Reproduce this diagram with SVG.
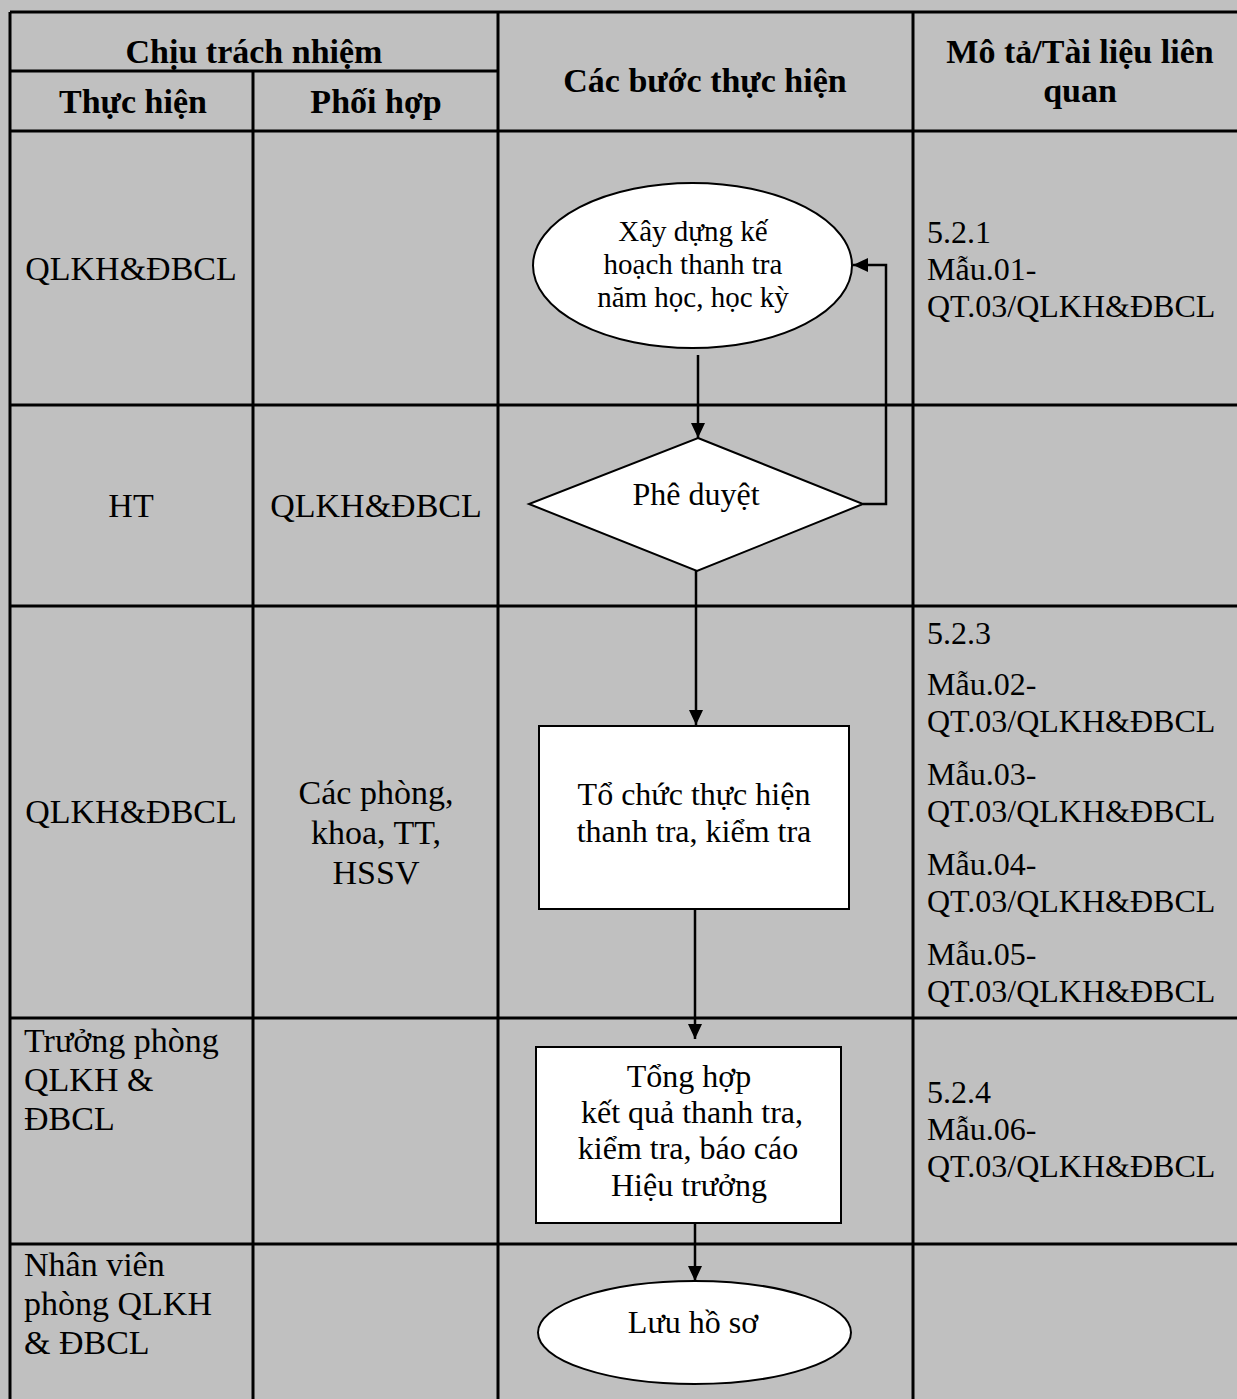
<svg xmlns="http://www.w3.org/2000/svg" width="1237" height="1399" viewBox="0 0 1237 1399">
<style>
.grid{stroke:#000;stroke-width:3;fill:none}
.hdr{font-family:"Liberation Serif","Times New Roman",serif;font-weight:bold;font-size:34px;fill:#000;text-anchor:middle}
.cell{font-family:"Liberation Serif","Times New Roman",serif;font-size:34px;fill:#000}
.ref{font-family:"Liberation Serif","Times New Roman",serif;font-size:32px;fill:#000}
.flow{font-family:"Liberation Serif","Times New Roman",serif;font-size:32px;fill:#000;text-anchor:middle}
.shape{fill:#fff;stroke:#000;stroke-width:2}
.conn{stroke:#000;stroke-width:2.5;fill:none}
.mid{text-anchor:middle}
</style>
<defs>
<marker id="arr" markerUnits="userSpaceOnUse" markerWidth="16" markerHeight="16" viewBox="0 0 16 16" refX="15" refY="8" orient="auto">
<path d="M0,1 L15,8 L0,15 Z" fill="#000"/>
</marker>
</defs>
<rect x="0" y="0" width="1237" height="1399" fill="#c0c0c0"/>
<g id="table">
<line class="grid" x1="10" y1="12" x2="1237" y2="12"/>
<line class="grid" x1="10" y1="71" x2="498" y2="71"/>
<line class="grid" x1="10" y1="131" x2="1237" y2="131"/>
<line class="grid" x1="10" y1="405" x2="1237" y2="405"/>
<line class="grid" x1="10" y1="606" x2="1237" y2="606"/>
<line class="grid" x1="10" y1="1018" x2="1237" y2="1018"/>
<line class="grid" x1="10" y1="1244" x2="1237" y2="1244"/>
<line class="grid" x1="10" y1="12" x2="10" y2="1399"/>
<line class="grid" x1="253" y1="71" x2="253" y2="1399"/>
<line class="grid" x1="498" y1="12" x2="498" y2="1399"/>
<line class="grid" x1="913" y1="12" x2="913" y2="1399"/>
</g>
<g id="headers">
<text class="hdr" x="254" y="63">Chịu trách nhiệm</text>
<text class="hdr" x="133" y="113">Thực hiện</text>
<text class="hdr" x="376" y="113">Phối hợp</text>
<text class="hdr" x="705" y="92">Các bước thực hiện</text>
<text class="hdr" x="1080" y="63">Mô tả/Tài liệu liên</text>
<text class="hdr" x="1080" y="102">quan</text>
</g>
<g id="responsible">
<text class="cell mid" x="131" y="280">QLKH&amp;ĐBCL</text>
<text class="cell mid" x="131" y="517">HT</text>
<text class="cell mid" x="376" y="517">QLKH&amp;ĐBCL</text>
<text class="cell mid" x="131" y="823">QLKH&amp;ĐBCL</text>
<text class="cell mid" x="376" y="804">Các phòng,</text>
<text class="cell mid" x="376" y="844">khoa, TT,</text>
<text class="cell mid" x="376" y="884">HSSV</text>
<text class="cell" x="24" y="1052">Trưởng phòng</text>
<text class="cell" x="24" y="1091">QLKH &amp;</text>
<text class="cell" x="24" y="1130">ĐBCL</text>
<text class="cell" x="24" y="1276">Nhân viên</text>
<text class="cell" x="24" y="1315">phòng QLKH</text>
<text class="cell" x="24" y="1354">&amp; ĐBCL</text>
</g>
<g id="refs">
<text class="ref" x="927" y="243">5.2.1</text>
<text class="ref" x="927" y="280">Mẫu.01-</text>
<text class="ref" x="927" y="317">QT.03/QLKH&amp;ĐBCL</text>
<text class="ref" x="927" y="644">5.2.3</text>
<text class="ref" x="927" y="695">Mẫu.02-</text>
<text class="ref" x="927" y="732">QT.03/QLKH&amp;ĐBCL</text>
<text class="ref" x="927" y="785">Mẫu.03-</text>
<text class="ref" x="927" y="822">QT.03/QLKH&amp;ĐBCL</text>
<text class="ref" x="927" y="875">Mẫu.04-</text>
<text class="ref" x="927" y="912">QT.03/QLKH&amp;ĐBCL</text>
<text class="ref" x="927" y="965">Mẫu.05-</text>
<text class="ref" x="927" y="1002">QT.03/QLKH&amp;ĐBCL</text>
<text class="ref" x="927" y="1103">5.2.4</text>
<text class="ref" x="927" y="1140">Mẫu.06-</text>
<text class="ref" x="927" y="1177">QT.03/QLKH&amp;ĐBCL</text>
</g>
<g id="connectors">
<line class="conn" x1="698" y1="355" x2="698" y2="438" marker-end="url(#arr)"/>
<polyline class="conn" points="863,504 886,504 886,265 853,265" marker-end="url(#arr)"/>
<line class="conn" x1="696" y1="571" x2="696" y2="725" marker-end="url(#arr)"/>
<line class="conn" x1="695" y1="909" x2="695" y2="1039" marker-end="url(#arr)"/>
<line class="conn" x1="695" y1="1223" x2="695" y2="1281" marker-end="url(#arr)"/>
</g>
<g id="n1">
<ellipse class="shape" cx="692.5" cy="265.5" rx="159.5" ry="82.5"/>
<text class="flow" x="693" y="241" style="font-size:29px">Xây dựng kế</text>
<text class="flow" x="693" y="274" style="font-size:29px">hoạch thanh tra</text>
<text class="flow" x="693" y="307" style="font-size:29px">năm học, học kỳ</text>
</g>
<g id="n2">
<polygon class="shape" points="698,438 863,504 697,571 529,504"/>
<text class="flow" x="696" y="505">Phê duyệt</text>
</g>
<g id="n3">
<rect class="shape" x="539" y="726" width="310" height="183"/>
<text class="flow" x="694" y="805">Tổ chức thực hiện</text>
<text class="flow" x="694" y="842">thanh tra, kiểm tra</text>
</g>
<g id="n4">
<rect class="shape" x="536" y="1047" width="305" height="176"/>
<text class="flow" x="689" y="1087">Tổng hợp</text>
<text class="flow" x="692" y="1123">kết quả thanh tra,</text>
<text class="flow" x="688" y="1159">kiểm tra, báo cáo</text>
<text class="flow" x="689" y="1196">Hiệu trưởng</text>
</g>
<g id="n5">
<ellipse class="shape" cx="694.5" cy="1332.5" rx="156.5" ry="51.5"/>
<text class="flow" x="693" y="1333">Lưu hồ sơ</text>
</g>
</svg>
